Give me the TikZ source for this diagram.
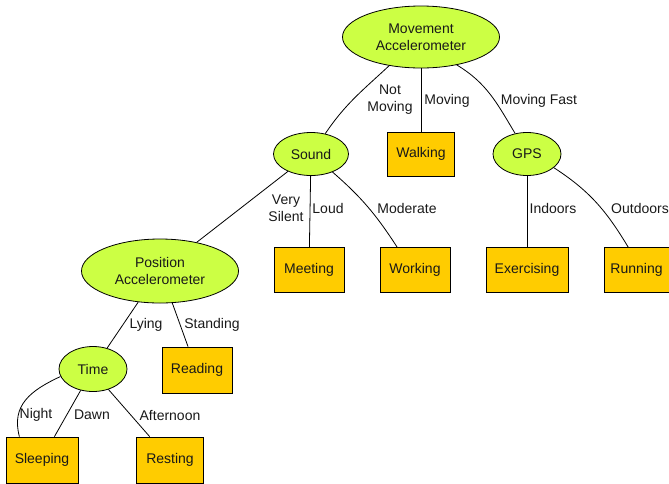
\documentclass[tikz,border=0pt]{standalone}
\usepackage{fontspec}
\setmainfont{Liberation Sans}
\usetikzlibrary{shapes.geometric,positioning}
\definecolor{sensorgreen}{HTML}{CCFF44}
\definecolor{actyellow}{HTML}{FFCC00}

\begin{document}
\begin{tikzpicture}[
  x=1pt,
  y=-1pt,
  every node/.style={font=\fontsize{14}{17}\selectfont, align=center, text=black!90},
  sensor/.style={ellipse, draw=black, fill=sensorgreen, line width=0.8pt, inner sep=0pt},
  activity/.style={rectangle, draw=black, fill=actyellow, line width=0.8pt, minimum width=70pt, minimum height=45pt, inner sep=0pt},
  branch/.style={line width=0.8pt},
  cond/.style={inner sep=1pt}
]
\useasboundingbox (0,0) rectangle (669,483);
\node[sensor, minimum width=157pt, minimum height=62pt] (move) at (421,37) {Movement\\Accelerometer};
\node[sensor, minimum width=75pt, minimum height=43pt] (sound) at (311,154) {Sound};
\node[activity, minimum width=67pt, minimum height=44pt] (walk) at (421,154) {Walking};
\node[sensor, minimum width=68pt, minimum height=43pt] (gps) at (527,154) {GPS};
\node[sensor, minimum width=157pt, minimum height=64pt] (posacc) at (160,271) {Position\\Accelerometer};
\node[activity] (meet) at (309,270) {Meeting};
\node[activity] (work) at (415,270) {Working};
\node[activity, minimum width=82pt] (exer) at (527,270) {Exercising};
\node[activity, minimum width=65pt] (run) at (636.5,270) {Running};
\node[sensor, minimum width=68pt, minimum height=45pt] (time) at (93,369) {Time};
\node[activity, minimum height=46pt] (read) at (197,370) {Reading};
\node[activity, minimum width=72pt, minimum height=46pt] (sleep) at (42,460) {Sleeping};
\node[activity, minimum width=67pt, minimum height=46pt] (rest) at (170,460) {Resting};

\draw[branch] (move.222) to[out=223,in=56] (sound.55);
\draw[branch] (move) -- (walk);
\draw[branch] (move.-38) to[out=-31,in=121] (gps.120);
\draw[branch] (sound.217) -- (posacc.38);
\draw[branch] (sound) -- (meet);
\draw[branch] (sound.-40) to[out=-41,in=123] (work.128);
\draw[branch] (gps) -- (exer);
\draw[branch] (gps.-27) to[out=-33,in=121] (run.110);
\draw[branch] (posacc.235) -- (time.56);
\draw[branch] (posacc.-69) -- (read.111);
\draw[branch] (time.193) to[out=205,in=105,looseness=1.15] (sleep.134);
\draw[branch] (time.240) -- (sleep.62);
\draw[branch] (time.-53) -- (rest.131);

\node[cond] (lnotmov) at (390,100) {Not\\Moving};
\node[cond] (lmov) at (447,101) {Moving};
\node[cond] (lmovfast) at (539,101) {Moving Fast};
\node[cond] (lsilent) at (286,208) {Very\\Silent};
\node[cond] (lloud) at (328,208) {Loud};
\node[cond] (lmod) at (407,208) {Moderate};
\node[cond] (lin) at (553,208) {Indoors};
\node[cond] (lout) at (640,208) {Outdoors};
\node[cond] (llying) at (146,325) {Lying};
\node[cond] (lstand) at (212,325) {Standing};
\node[cond] (lnight) at (36,415) {Night};
\node[cond] (ldawn) at (92,415) {Dawn};
\node[cond] (laft) at (170,415) {Afternoon};
\end{tikzpicture}
\end{document}
